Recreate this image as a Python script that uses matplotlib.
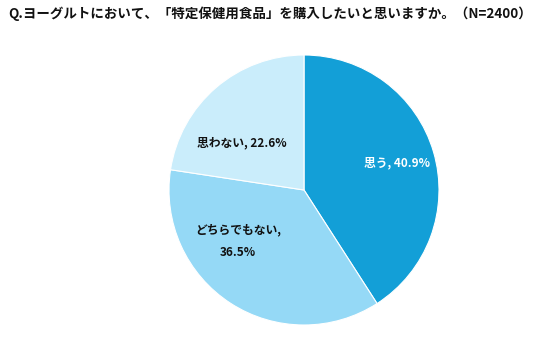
import matplotlib
matplotlib.use("Agg")
import matplotlib.pyplot as plt

plt.rcParams['font.family'] = ['Noto Sans CJK JP', 'DejaVu Sans']

labels = ['思う, 40.9%', 'どちらでもない,\n36.5%', '思わない, 22.6%']
values = [40.9, 36.5, 22.6]
colors = ['#139fd7', '#95d9f6', '#caedfb']
text_colors = ['white', '#111111', '#111111']
# label positions in pie units (radius 1)
label_xy = [(0.69, 0.20), (-0.49, -0.38), (-0.46, 0.35)]

fig = plt.figure(figsize=(5.36, 3.55), dpi=100)
ax = fig.add_axes([(304 - 135) / 536, (355 - 190 - 135) / 355, 270 / 536, 270 / 355])

ax.pie(values, colors=colors, startangle=90, counterclock=False,
       wedgeprops={'linewidth': 0.8, 'edgecolor': 'white'})
for (x, y), lab, c in zip(label_xy, labels, text_colors):
    ax.text(x, y, lab, ha='center', va='center', fontsize=8.5,
            fontweight='bold', color=c, linespacing=2.0)
ax.set_xlim(-1.0, 1.0)
ax.set_ylim(-1.0, 1.0)
ax.set_aspect('equal')

fig.text(8 / 536, 1 - 14 / 355,
         'Q.ヨーグルトにおいて、「特定保健用食品」を購入したいと思いますか。（N=2400）',
         ha='left', va='center', fontsize=9.7, fontweight='bold', color='#111111')

fig.savefig('out.png', dpi=100)
